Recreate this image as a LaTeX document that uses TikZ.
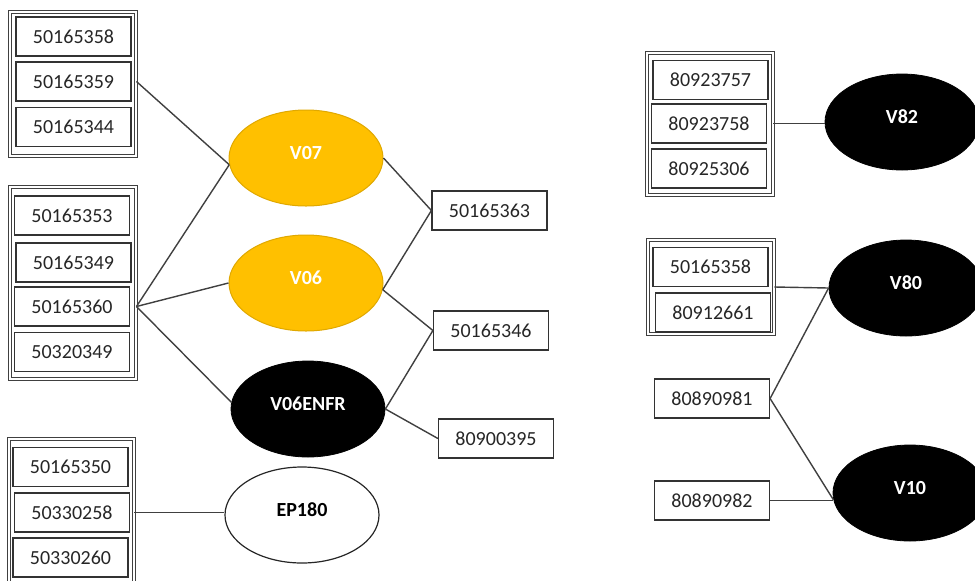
\documentclass[tikz,border=0pt]{standalone}
\usepackage{fontspec}
\setmainfont{Carlito}
\usetikzlibrary{shapes.geometric}
\definecolor{gold}{HTML}{FFC000}
\definecolor{golddark}{HTML}{E0A800}
\begin{document}
\begin{tikzpicture}[x=.5, y=-.5,
        part/.style={draw=black!80, line width=.8pt, text=black!85,
            minimum width=57.5pt, minimum height=19.5pt, inner sep=0},
        single/.style={part, line width=.6pt},
        group/.style={draw=black!75, double, double distance=1pt,
            line width=.45pt, inner sep=0},
        ell/.style={ellipse, minimum width=77pt, minimum height=48pt,
            inner sep=0, font=\bfseries, text height=6pt, text depth=5pt},
        yellow ell/.style={ell, fill=gold, draw=golddark, line width=.5pt,
            text=white},
        black ell/.style={ell, fill=black, draw=black, text=white},
        white ell/.style={ell, fill=white, draw=black!85, line width=.6pt},
        link/.style={draw=black!75, line width=.7pt}]
    \useasboundingbox (0, 0) rectangle (975, 580);
    \clip (0, 0) rectangle (975, 580);

    \node [group, minimum width=63pt, minimum height=72pt] (g1) at (73, 84) {};
    \node [part] (g1a) at (73.5, 36.5) {50165358};
    \node [part] (g1b) at (73.5, 81.5) {50165359};
    \node [part] (g1c) at (73.5, 127) {50165344};

    \node [group, minimum width=63pt, minimum height=96pt] (g2) at (73, 283) {};
    \node [part] (g2a) at (72, 215.5) {50165353};
    \node [part] (g2b) at (73.5, 262.5) {50165349};
    \node [part] (g2c) at (72, 306.5) {50165360};
    \node [part] (g2d) at (72, 352) {50320349};

    \node [group, minimum width=62.5pt, minimum height=72pt] (g3) at (71.5, 511) {};
    \node [part] (g3a) at (70.5, 467) {50165350};
    \node [part] (g3b) at (72, 512.5) {50330258};
    \node [part] (g3c) at (70.5, 557.5) {50330260};

    \node [group, minimum width=63pt, minimum height=71pt] (g4) at (710, 124) {};
    \node [part] (g4a) at (710.5, 80) {80923757};
    \node [part] (g4b) at (709, 123.5) {80923758};
    \node [part] (g4c) at (709, 168.5) {80925306};

    \node [group, minimum width=63pt, minimum height=47pt] (g5) at (711, 287) {};
    \node [part] (g5a) at (710.5, 267) {50165358};
    \node [part] (g5b) at (713, 312.5) {80912661};

    \node [single] (s63) at (489.5, 210.5) {50165363};
    \node [single] (s46) at (491, 330.5) {50165346};
    \node [single] (s95) at (496, 438.5) {80900395};
    \node [single] (s81) at (712, 398.5) {80890981};
    \node [single] (s82) at (712, 500.5) {80890982};

    \node [yellow ell] (v07) at (306, 158) {V07};
    \node [yellow ell] (v06) at (306, 283) {V06};
    \node [black ell] (v06enfr) at (308, 409) {V06ENFR};
    \node [white ell] (ep180) at (302, 515) {EP180};
    \node [black ell] (v82) at (902, 122) {V82};
    \node [black ell] (v80) at (906, 288) {V80};
    \node [black ell] (v10) at (910, 493) {V10};

    \draw [link] (g1.east |- g1b.east) -- (v07.185);
    \draw [link] (g2.east |- g2c.east) -- (v07.185);
    \draw [link] (g2.east |- g2c.east) -- (v06.west);
    \draw [link] (g2.east |- g2c.east) -- (v06enfr.175);
    \draw [link] (v07.east) -- (s63.west);
    \draw [link] (v06.355) -- (s63.west);
    \draw [link] (v06.355) -- (s46.west);
    \draw [link] (v06enfr.east) -- (s46.west);
    \draw [link] (v06enfr.east) -- (s95.west);
    \draw [link] (g3.east |- g3b.east) -- (g3b.east -| ep180.west);
    \draw [link] (g4.east |- g4b.east) -- (g4b.east -| v82.west);
    \draw [link] (g5.east) -- (v80.west);
    \draw [link] (s81.east) -- (v80.west);
    \draw [link] (s81.east) -- (v10.185);
    \draw [link] (s82.east) -- (s82.east -| v10.west);
\end{tikzpicture}
\end{document}
